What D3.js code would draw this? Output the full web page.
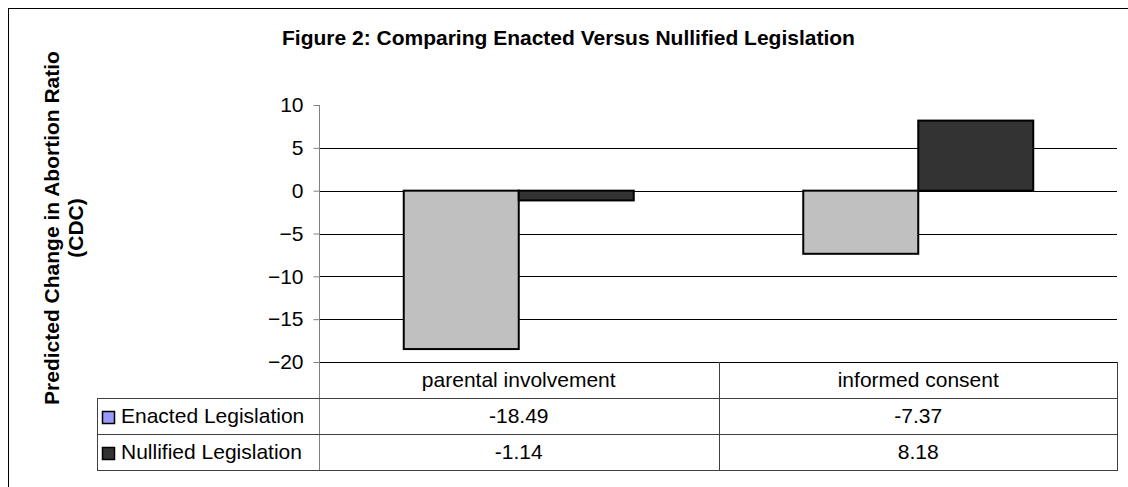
<!DOCTYPE html>
<html><head><meta charset="utf-8">
<script src="https://cdn.jsdelivr.net/npm/d3@7"></script>
<style>
html,body{margin:0;padding:0;background:#fff;}
svg{display:block;font-family:"Liberation Sans",Arial,sans-serif;}
</style></head>
<body><svg id="c" width="1128" height="487"></svg>
<script>
const categories = ["parental involvement", "informed consent"];
const seriesNames = ["Enacted Legislation", "Nullified Legislation"];
const enacted = [-18.49, -7.37];
const nullified = [-1.14, 8.18];
const tickValues = [10, 5, 0, -5, -10, -15, -20];
const valueLabels = [["-18.49", "-7.37"], ["-1.14", "8.18"]];
const barColors = ["#C0C0C0", "#333333"];
const swatchColors = ["#9999FF", "#333333"];
const titleText = "Figure 2: Comparing Enacted Versus Nullified Legislation";
const yTitle = ["Predicted Change in Abortion Ratio", "(CDC)"];

const svg = d3.select("#c");
const L = 319, R = 1118, T = 105, B = 362;
const rowH = 36, tableLeft = 97;
const FS = 21;

// outer border
svg.append("rect").attr("x", 8.5).attr("y", 8.5).attr("width", 1140).attr("height", 500)
  .attr("fill", "none").attr("stroke", "#000").attr("stroke-width", 1);

const y = d3.scaleLinear().domain([-20, 10]).range([B, T]);
const x0 = d3.scaleBand().domain(categories).range([L, R]);
const x1 = d3.scaleBand().domain(seriesNames).range([0, x0.bandwidth()]).paddingInner(0).paddingOuter(0.737);

// gridlines
svg.append("g").selectAll("line").data(tickValues.filter(v => v < 10)).join("line")
  .attr("x1", L).attr("x2", R - 1)
  .attr("y1", d => Math.round(y(d)) + 0.5).attr("y2", d => Math.round(y(d)) + 0.5)
  .attr("stroke", "#000").attr("stroke-width", 1);

// bars
const data = [enacted, nullified];
const g = svg.append("g");
seriesNames.forEach((s, si) => {
  g.selectAll(null).data(categories).join("rect")
    .attr("x", (c) => x0(c) + x1(s))
    .attr("width", x1.bandwidth())
    .attr("y", (c, i) => y(Math.max(0, data[si][i])))
    .attr("height", (c, i) => Math.abs(y(data[si][i]) - y(0)))
    .attr("fill", barColors[si]).attr("stroke", "#000").attr("stroke-width", 2);
});

// y axis
const yAxis = d3.axisLeft(y).tickValues(tickValues).tickSize(6).tickPadding(10).tickFormat(d3.format("d"));
const ag = svg.append("g").attr("transform", `translate(${L + 0.5},0)`).call(yAxis);
ag.select(".domain").remove();
ag.selectAll(".tick line").attr("stroke", "#808080");
ag.selectAll(".tick text").attr("font-size", FS).attr("fill", "#000")
  .attr("font-family", "Liberation Sans, Arial, sans-serif");
svg.append("line").attr("x1", L + 0.5).attr("x2", L + 0.5).attr("y1", T).attr("y2", B + 3 * rowH)
  .attr("stroke", "#808080").attr("stroke-width", 1);

// table
const tg = svg.append("g");
const lineColor = "#404040";
[1, 2, 3].forEach(k => {
  tg.append("line").attr("x1", tableLeft).attr("x2", R).attr("y1", B + k * rowH + 0.5).attr("y2", B + k * rowH + 0.5).attr("stroke", lineColor);
});
tg.append("line").attr("x1", tableLeft + 0.5).attr("x2", tableLeft + 0.5).attr("y1", B + rowH).attr("y2", B + 3 * rowH).attr("stroke", lineColor);
tg.append("line").attr("x1", Math.round(x0(categories[1])) + 0.5).attr("x2", Math.round(x0(categories[1])) + 0.5)
  .attr("y1", B).attr("y2", B + 3 * rowH).attr("stroke", lineColor);
tg.append("line").attr("x1", R - 0.5).attr("x2", R - 0.5).attr("y1", B).attr("y2", B + 3 * rowH).attr("stroke", lineColor);

// header labels
tg.selectAll(null).data(categories).join("text")
  .attr("x", c => x0(c) + x0.bandwidth() / 2).attr("y", B + 25)
  .attr("text-anchor", "middle").attr("font-size", FS).text(c => c);

// value rows
seriesNames.forEach((s, si) => {
  const ry = B + rowH * (si + 1);
  tg.selectAll(null).data(categories).join("text")
    .attr("x", c => x0(c) + x0.bandwidth() / 2).attr("y", ry + 25)
    .attr("text-anchor", "middle").attr("font-size", FS).text((c, i) => valueLabels[si][i]);
  tg.append("rect").attr("x", 102.5).attr("y", ry + 13.5).attr("width", 12).attr("height", 12)
    .attr("fill", swatchColors[si]).attr("stroke", "#000").attr("stroke-width", 1.5);
  tg.append("text").attr("x", 121).attr("y", ry + 25).attr("font-size", FS).text(s);
});

// title
svg.append("text").attr("x", 282).attr("y", 45).attr("text-anchor", "start")
  .attr("font-size", FS).attr("font-weight", "bold").text(titleText);

// y title
const yt = svg.append("text").attr("transform", "translate(0,228) rotate(-90)")
  .attr("text-anchor", "middle").attr("font-size", FS).attr("font-weight", "bold");
yt.append("tspan").attr("x", 0).attr("y", 59).text(yTitle[0]);
yt.append("tspan").attr("x", 0).attr("y", 83).text(yTitle[1]);
</script></body></html>
